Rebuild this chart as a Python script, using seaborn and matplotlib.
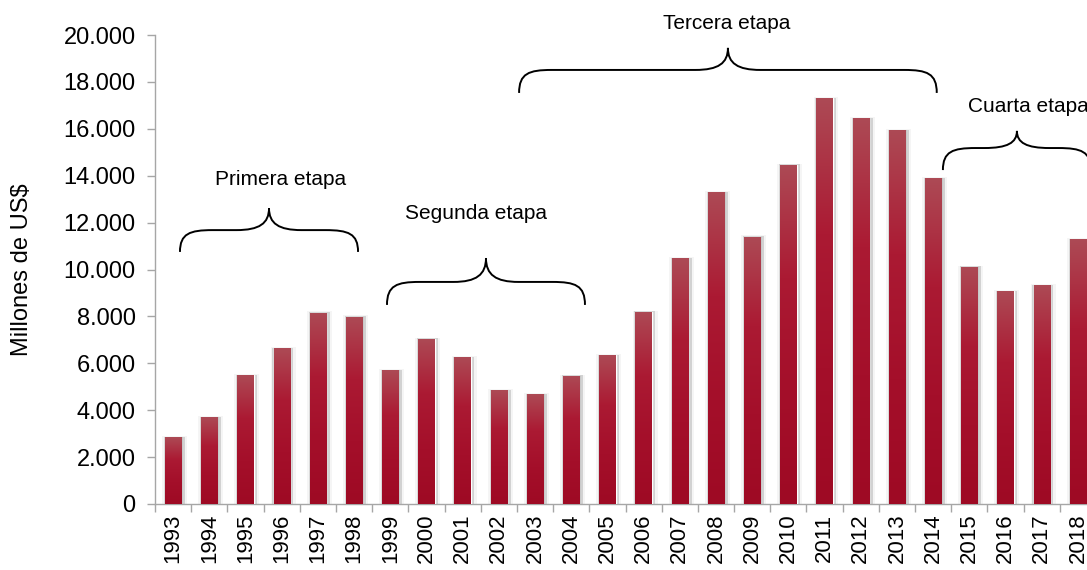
import numpy as np
import pandas as pd
import matplotlib
matplotlib.use('Agg')
import matplotlib.pyplot as plt
import seaborn as sns
from matplotlib.path import Path
from matplotlib.patches import PathPatch, Rectangle
from matplotlib.colors import LinearSegmentedColormap
from matplotlib.ticker import FuncFormatter, FixedLocator

years = [str(y) for y in range(1993, 2019)]
valores = [2850, 3710, 5500, 6650, 8150, 7980, 5710, 7040, 6250, 4860,
           4690, 5460, 6350, 8190, 10490, 13300, 11390, 14460, 17310, 16460,
           15950, 13900, 10110, 9080, 9340, 11300]

etapas = ['Primera etapa', 'Segunda etapa', 'Tercera etapa', 'Cuarta etapa']

df = pd.DataFrame({'anio': years, 'valor': valores})

sns.set_style('white')
plt.rcParams['font.family'] = ['Liberation Sans', 'DejaVu Sans']
plt.rcParams['text.color'] = 'black'
plt.rcParams['xtick.labelcolor'] = 'black'
plt.rcParams['ytick.labelcolor'] = 'black'
plt.rcParams['axes.labelcolor'] = 'black'

fig = plt.figure(figsize=(10.87, 5.70), dpi=100)
# the right edge of the plot is cut off in the original
ax = fig.add_axes([155 / 1087, (570 - 504) / 570, 941 / 1087, 469 / 570])

sns.barplot(data=df, x='anio', y='valor', color='#a8102c', width=0.45,
            saturation=1, ax=ax, zorder=3)

# gradient fill (light top, dark bottom) + soft shadow for every bar
cmap = LinearSegmentedColormap.from_list('rojo', ['#ad4a55', '#ab1a33', '#a40f2a', '#9e0a24'])
grad = np.linspace(0, 1, 256).reshape(-1, 1)
for bar in ax.patches:
    x0, w, h = bar.get_x(), bar.get_width(), bar.get_height()
    ax.add_patch(Rectangle((x0 - 0.08, 0), w + 0.24, h + 60, color='#f5f5f5', zorder=1, lw=0))
    ax.add_patch(Rectangle((x0 - 0.03, 0), w + 0.13, h + 20, color='#d2d2d2', zorder=2, lw=0))
    ax.add_patch(Rectangle((x0 + w, 0), 0.04, h, color='#bdbdbd', zorder=2, lw=0))
    im = ax.imshow(grad, cmap=cmap, aspect='auto', extent=(x0, x0 + w, 0, h),
                   origin='upper', zorder=4)
    im.set_clip_path(bar)
    bar.set_facecolor('none')

ax.set_xlim(-0.5, len(years) - 0.5)
ax.set_ylim(0, 20000)
ax.set_yticks(range(0, 20001, 2000))
ax.yaxis.set_major_formatter(FuncFormatter(lambda v, p: f'{int(v):,}'.replace(',', '.')))

ax.xaxis.set_major_locator(FixedLocator(np.arange(len(years))))
ax.set_xticklabels(years, rotation=90)
ax.xaxis.set_minor_locator(FixedLocator(np.arange(-0.5, len(years), 1)))
ax.tick_params(axis='x', which='major', length=0, pad=7, labelsize=16)
ax.tick_params(axis='x', which='minor', length=6, color='#a6a6a6', width=1, bottom=True)
ax.tick_params(axis='y', length=6, color='#a6a6a6', width=1, labelsize=17, left=True, pad=8)

for s in ['top', 'right']:
    ax.spines[s].set_visible(False)
for s in ['left', 'bottom']:
    ax.spines[s].set_color('#a6a6a6')
    ax.spines[s].set_linewidth(1)

ax.set_xlabel('')
ax.set_ylabel('Millones de US$', fontsize=17, labelpad=22)


def llave(x0, x1, ytip, ybody, ypeak, r=0.9):
    xm = (x0 + x1) / 2
    dy = ypeak - ybody
    verts = [(x0, ytip), (x0, ybody - 150), (x0 + r * 0.3, ybody), (x0 + r, ybody),
             (xm - r, ybody),
             (xm - r * 0.3, ybody), (xm, ybody + dy * 0.3), (xm, ypeak),
             (xm, ybody + dy * 0.3), (xm + r * 0.3, ybody), (xm + r, ybody),
             (x1 - r, ybody),
             (x1 - r * 0.3, ybody), (x1, ybody - 150), (x1, ytip)]
    codes = [Path.MOVETO, Path.CURVE4, Path.CURVE4, Path.CURVE4, Path.LINETO,
             Path.CURVE4, Path.CURVE4, Path.CURVE4,
             Path.CURVE4, Path.CURVE4, Path.CURVE4, Path.LINETO,
             Path.CURVE4, Path.CURVE4, Path.CURVE4]
    ax.add_patch(PathPatch(Path(verts, codes), fill=False, lw=1.4, color='black',
                           clip_on=False, zorder=5))


llave(0.19, 5.11, 10750, 11680, 12620)
llave(5.91, 11.38, 8490, 9470, 10490)
llave(9.56, 21.1, 17530, 18510, 19450)
llave(21.27, 25.36, 14240, 15180, 15910)

txt = dict(fontsize=15, ha='center', va='center', clip_on=False)
ax.text(2.98, 13820, etapas[0], **txt)
ax.text(8.37, 12370, etapas[1], **txt)
ax.text(15.3, 20470, etapas[2], **txt)
ax.text(23.62, 16970, etapas[3], **txt)

fig.savefig('out.png', dpi=100)
